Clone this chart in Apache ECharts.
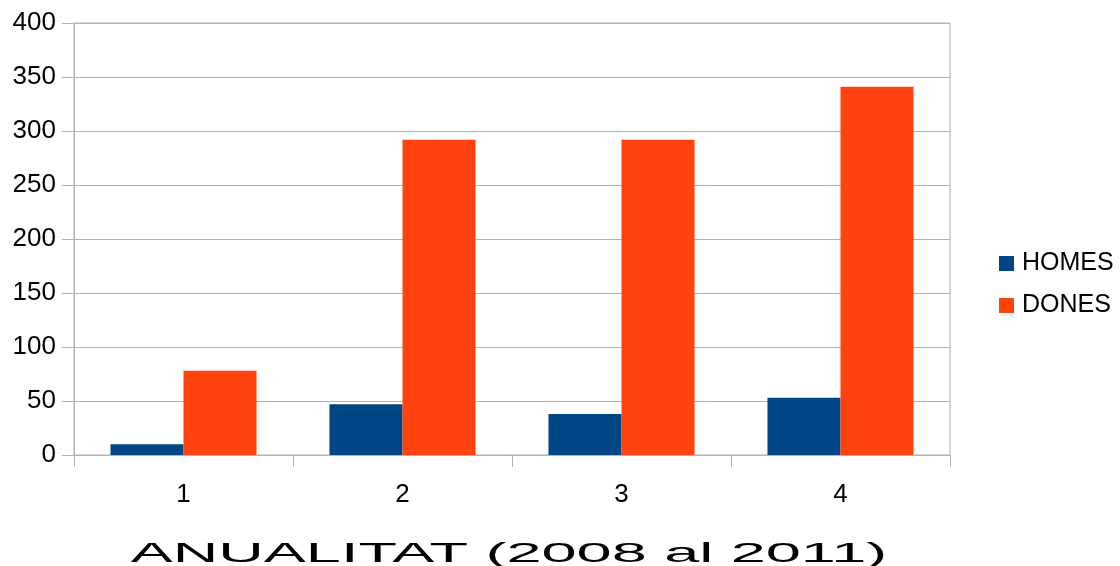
<!DOCTYPE html>
<html>
<head>
<meta charset="utf-8">
<script src="https://cdn.jsdelivr.net/npm/echarts@6/dist/echarts.min.js"></script>
<style>
html,body{margin:0;padding:0;background:#fff;}
#chart{width:1120px;height:566px;}
</style>
</head>
<body>
<div id="chart"></div>
<script>
const categories = ['1', '2', '3', '4'];
const homes = [10, 47, 38, 53];
const dones = [78, 292, 292, 341];
const seriesNames = ['HOMES', 'DONES'];
const axisTitle = 'ANUALITAT (2008 al 2011)';

const chart = echarts.init(document.getElementById('chart'), null, {renderer: 'canvas'});
const FONT = '"Liberation Sans", Arial, sans-serif';
const GRAY = '#b3b3b3';
chart.setOption({
  animation: false,
  backgroundColor: '#ffffff',
  grid: {left: 74, right: 170, top: 23, bottom: 111, show: true, borderColor: GRAY, borderWidth: 1, containLabel: false},
  legend: {
    orient: 'vertical', left: 994, top: 246,
    icon: 'rect', itemWidth: 15, itemHeight: 15, itemGap: 17,
    textStyle: {fontFamily: FONT, fontSize: 25, color: '#000', padding: [0, 0, 0, 3]},
    data: seriesNames
  },
  xAxis: {
    type: 'category', data: categories,
    axisLine: {lineStyle: {color: GRAY}},
    axisTick: {show: true, length: 12, lineStyle: {color: GRAY}},
    axisLabel: {fontFamily: FONT, fontSize: 26, color: '#000', margin: 27},
    splitLine: {show: false}
  },
  yAxis: {
    type: 'value', min: 0, max: 400, interval: 50,
    axisLine: {show: true, lineStyle: {color: GRAY}},
    axisTick: {show: true, length: 12, lineStyle: {color: GRAY}},
    axisLabel: {fontFamily: FONT, fontSize: 26, color: '#000', margin: 18},
    splitLine: {lineStyle: {color: GRAY}}
  },
  series: [
    {name: seriesNames[0], type: 'bar', data: homes, itemStyle: {color: '#004586'}, barGap: '0%', barCategoryGap: '33.3%'},
    {name: seriesNames[1], type: 'bar', data: dones, itemStyle: {color: '#ff420e'}, barGap: '0%', barCategoryGap: '33.3%'}
  ],
  graphic: [{
    type: 'text', x: 509, y: 554, scaleX: 2.25, scaleY: 1,
    style: {text: axisTitle, font: '28px ' + FONT, fill: '#000', textAlign: 'center', textVerticalAlign: 'middle'}
  }]
});
</script>
</body>
</html>
